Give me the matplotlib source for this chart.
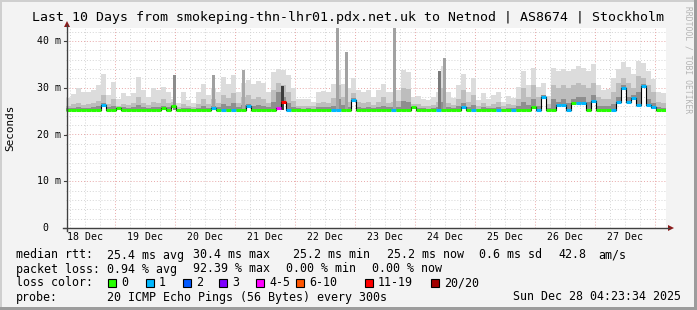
import numpy as np
import matplotlib.pyplot as plt
from matplotlib.patches import Rectangle, Polygon
from matplotlib.lines import Line2D

W, H = 697, 310
MONO = 'DejaVu Sans Mono'

# time axis: hours since 18 Dec 00:00, one bin = 2 hours
start_h = 4.4
bin_h = 2.0
day_labels = ['18 Dec', '19 Dec', '20 Dec', '21 Dec', '22 Dec',
              '23 Dec', '24 Dec', '25 Dec', '26 Dec', '27 Dec']

# smoke envelope (ms), outer / middle / inner layers
smoke_max = [27.8, 28.6, 30.0, 29.0, 29.0, 29.6, 30.5, 32.9, 28.5, 31.3,
             27.5, 28.8, 28.2, 28.8, 32.4, 29.5, 28.0, 29.9, 29.5, 30.2,
             29.0, 27.5, 26.8, 29.0, 27.3, 26.8, 29.0, 30.7, 28.5, 30.0,
             29.0, 32.4, 30.8, 32.7, 29.0, 31.0, 31.6, 30.8, 31.5, 31.0,
             29.0, 33.4, 34.0, 33.7, 32.7, 30.0, 27.5, 27.5, 27.5, 27.0,
             29.0, 29.3, 29.0, 30.8, 33.7, 30.8, 30.0, 32.0, 29.5, 29.0,
             29.5, 28.0, 29.5, 30.8, 29.0, 29.0, 29.5, 33.7, 33.4, 28.0,
             28.3, 27.5, 27.3, 28.0, 29.0, 34.6, 29.0, 27.8, 30.5, 33.0,
             29.0, 32.0, 27.3, 28.8, 27.5, 28.5, 29.0, 27.0, 28.3, 27.8,
             30.2, 33.5, 30.5, 34.2, 30.2, 31.0, 28.3, 34.3, 33.5, 34.0,
             33.5, 34.0, 34.6, 34.2, 33.6, 35.0, 30.5, 29.5, 29.8, 32.0,
             34.0, 35.5, 34.5, 33.0, 35.7, 35.3, 33.6, 31.8, 29.0, 28.8]
smoke_mid = [26.2, 26.5, 26.8, 26.4, 26.6, 26.8, 27.2, 28.5, 26.5, 27.5,
             26.0, 26.6, 26.4, 26.8, 28.0, 26.8, 26.3, 27.0, 26.8, 27.5,
             26.8, 27.0, 25.9, 26.5, 26.0, 25.9, 26.6, 27.5, 26.5, 27.5,
             26.8, 28.5, 27.8, 28.8, 26.8, 28.0, 28.5, 27.5, 28.0, 27.5,
             26.8, 29.5, 31.0, 30.5, 29.0, 27.2, 26.2, 26.0, 26.2, 26.0,
             26.8, 27.0, 26.8, 27.8, 30.5, 28.0, 27.0, 28.8, 27.0, 26.8,
             27.0, 26.4, 27.0, 28.0, 26.8, 27.0, 27.2, 30.0, 29.8, 26.5,
             26.5, 26.2, 26.0, 26.4, 27.0, 30.0, 26.8, 26.3, 27.5, 29.5,
             27.0, 28.5, 26.0, 26.8, 26.2, 26.6, 27.0, 26.0, 26.6, 26.3,
             27.5, 30.0, 28.0, 30.5, 28.0, 28.5, 26.6, 30.5, 30.0, 30.5,
             30.0, 30.5, 31.0, 30.5, 30.0, 31.0, 28.0, 27.5, 27.5, 29.0,
             31.0, 32.0, 31.0, 30.0, 32.5, 32.0, 30.5, 29.0, 27.0, 26.8]
smoke_low = [25.6, 25.7, 25.8, 25.7, 25.7, 25.8, 26.0, 26.8, 25.8, 26.0,
             25.6, 25.8, 25.7, 25.8, 26.3, 25.8, 25.6, 25.9, 25.8, 26.2,
             25.8, 26.3, 25.5, 25.7, 25.6, 25.5, 25.7, 26.0, 25.7, 26.2,
             25.8, 26.5, 26.2, 26.8, 25.8, 26.4, 26.6, 26.2, 26.4, 26.2,
             25.8, 27.0, 29.0, 28.0, 26.8, 25.9, 25.6, 25.5, 25.6, 25.5,
             25.8, 25.9, 25.8, 26.2, 27.5, 26.3, 25.9, 27.8, 25.9, 25.7,
             25.8, 25.6, 25.8, 26.2, 25.8, 25.9, 25.9, 27.2, 27.0, 25.9,
             25.7, 25.6, 25.5, 25.6, 25.9, 27.0, 25.8, 25.6, 26.0, 26.8,
             25.8, 26.3, 25.5, 25.8, 25.6, 25.7, 25.9, 25.5, 25.7, 25.6,
             26.0, 27.0, 26.3, 27.5, 26.2, 28.5, 25.7, 27.5, 27.0, 27.5,
             26.8, 27.5, 28.0, 28.0, 27.0, 28.5, 26.2, 26.0, 26.0, 26.5,
             28.0, 30.5, 28.0, 28.5, 29.0, 30.8, 27.5, 26.8, 25.8, 25.6]

median = [25.3] * 120
for i, v in {7: 26.3, 10: 25.6, 19: 25.7, 21: 26.0, 29: 25.6, 36: 26.0,
             42: 25.6, 43: 27.0, 57: 27.3, 69: 25.9, 79: 25.9, 93: 25.8,
             95: 28.0, 98: 26.3, 99: 26.3, 101: 26.7, 102: 26.8, 103: 26.8,
             105: 27.2, 110: 27.0, 111: 29.9, 112: 27.0, 113: 27.9,
             114: 26.3, 115: 30.4, 116: 26.3, 117: 25.8}.items():
    median[i] = v

# lost pings (of 20) per bin
loss = [0] * 120
for i in [7, 29, 31, 33, 36, 44, 53, 54, 57, 65, 74, 79, 81, 86, 89, 94, 95,
          98, 99, 100, 102, 103, 105, 109, 110, 111, 112, 113, 114, 115,
          116, 117]:
    loss[i] = 1
loss[42] = 4
loss[43] = 12

# narrow outlier columns
spike_hours = [47.6, 63.2, 75.2, 90.8, 112.8, 116.4, 135.6, 153.6, 155.6]
spike_tops = [32.7, 32.7, 33.8, 30.4, 43.0, 37.7, 42.8, 33.6, 36.3]
spike_shade = ['#8c8c8c', '#a0a0a0', '#a8a8a8', '#3c3c3c', '#a2a2a2',
               '#a2a2a2', '#a2a2a2', '#7a7a7a', '#a2a2a2']

loss_names = ['0', '1', '2', '3', '4-5', '6-10', '11-19', '20/20']
loss_colors = ['#26ff00', '#00b8ff', '#0059ff', '#7e00ff', '#ff00ff',
               '#ff5500', '#ff0000', '#a10000']


def loss_color(n):
    if n == 0:
        return loss_colors[0]
    if n <= 3:
        return loss_colors[n]
    if n <= 5:
        return loss_colors[4]
    if n <= 10:
        return loss_colors[5]
    if n <= 19:
        return loss_colors[6]
    return loss_colors[7]


def fx(x):
    return x / W


def fy(y):
    return 1 - y / H


fig = plt.figure(figsize=(W / 100, H / 100), dpi=100, facecolor='#f3f3f3')

# frame of the image
fig.add_artist(Rectangle((0, fy(2)), 1, 2 / H, transform=fig.transFigure, color='#cfcfcf', lw=0))
fig.add_artist(Rectangle((0, 0), 2 / W, 1, transform=fig.transFigure, color='#cfcfcf', lw=0))
fig.add_artist(Rectangle((0, 0), 1, 3 / H, transform=fig.transFigure, color='#9c9c9c', lw=0))
fig.add_artist(Rectangle((fx(694), 0), 3 / W, 1, transform=fig.transFigure, color='#9c9c9c', lw=0))

ax = fig.add_axes([fx(66), 82 / H, 600 / W, 200 / H])
ax.set_facecolor('white')
ax.set_xlim(start_h, start_h + 240)
ax.set_ylim(0, 42.78)
for s in ax.spines.values():
    s.set_visible(False)
ax.set_xticks([])
ax.set_yticks([])

# grid
for h in np.arange(6, 246, 6):
    if h % 24 == 0:
        continue
    ax.axvline(h, color='#d4d4d4', lw=0.7, ls=(0, (1, 2)), zorder=0)
for v in np.arange(2, 44, 2):
    if v % 10 == 0:
        continue
    ax.axhline(v, color='#d4d4d4', lw=0.7, ls=(0, (1, 2)), zorder=0)
for d in range(1, 11):
    ax.axvline(24 * d, color='#e8a8a8', lw=0.7, ls=(0, (1, 2)), zorder=0)
for v in [10, 20, 30, 40]:
    ax.axhline(v, color='#e8a8a8', lw=0.7, ls=(0, (1, 2)), zorder=0)

# smoke
edges = start_h + bin_h * np.arange(len(smoke_max) + 1)
base = np.array(median + [median[-1]]) - 0.25


def step(vals):
    return np.append(vals, vals[-1])


ax.fill_between(edges, base, step(smoke_max), step='post', color='#dcdcdc', lw=0, zorder=1)
ax.fill_between(edges, base, step(smoke_mid), step='post', color='#bdbdbd', lw=0, zorder=2)
ax.fill_between(edges, base, step(smoke_low), step='post', color='#8e8e8e', lw=0, zorder=3)
ax.bar(spike_hours, np.array(spike_tops) - 25.3, bottom=25.3, width=1.2,
       color=spike_shade, lw=0, zorder=3)

# median line coloured by loss
for i, m in enumerate(median):
    x0, x1 = edges[i], edges[i + 1]
    if i > 0 and abs(median[i - 1] - m) > 0.05:
        ax.plot([x0, x0], [median[i - 1], m], color='black', lw=0.8, zorder=4)
    ax.plot([x0, x1], [m, m], color=loss_color(loss[i]), lw=2.2,
            solid_capstyle='butt', zorder=5)

# axes lines with arrows
fig.add_artist(Line2D([fx(63), fx(669)], [fy(228), fy(228)], color='#404040', lw=1))
fig.add_artist(Line2D([fx(67), fx(67)], [fy(231), fy(25)], color='#404040', lw=1))
fig.add_artist(Polygon([[fx(668), fy(225)], [fx(668), fy(231)], [fx(674), fy(228)]],
                       closed=True, transform=fig.transFigure, color='#8b1a1a', lw=0))
fig.add_artist(Polygon([[fx(64), fy(27)], [fx(70), fy(27)], [fx(67), fy(21)]],
                       closed=True, transform=fig.transFigure, color='#8b1a1a', lw=0))

# y tick labels
for v, lab in zip([0, 10, 20, 30, 40], ['0  ', '10 m', '20 m', '30 m', '40 m']):
    y = 228 - v * 4.675
    fig.text(fx(61), fy(y), lab, ha='right', va='center', family=MONO, fontsize=7.1)
    fig.add_artist(Line2D([fx(64), fx(67)], [fy(y), fy(y)], color='#404040', lw=0.8))

# x tick labels
for d, lab in enumerate(day_labels):
    ax.text(12 + 24 * d, -1.9, lab, ha='center', va='center', family=MONO,
            fontsize=7.1, clip_on=False)

# title and side texts
fig.text(fx(348), fy(18), 'Last 10 Days from smokeping-thn-lhr01.pdx.net.uk to Netnod | AS8674 | Stockholm',
         ha='center', va='center', family=MONO, fontsize=9.55)
fig.text(fx(10), fy(128), 'Seconds', ha='center', va='center', rotation=90,
         family=MONO, fontsize=7.9)
fig.text(fx(688), fy(60), 'RRDTOOL / TOBI OETIKER', ha='center', va='center',
         rotation=270, family=MONO, fontsize=5.8, color='#b4b4b4')

# legend block
leg = 8.4
rows = [
    (255, [(16, 'median rtt:'), (107, '25.4 ms avg'), (193, '30.4 ms max'),
           (293, '25.2 ms min'), (387, '25.2 ms now'), (479, '0.6 ms sd'),
           (558, '42.8'), (598, 'am/s')]),
    (269, [(16, 'packet loss:'), (107, '0.94 % avg'), (193, '92.39 % max'),
           (286, '0.00 % min'), (372, '0.00 % now')]),
    (283, [(16, 'loss color:')]),
    (297, [(16, 'probe:'), (107, '20 ICMP Echo Pings (56 Bytes) every 300s')]),
]
for y, items in rows:
    for x, s in items:
        fig.text(fx(x), fy(y), s, ha='left', va='center', family=MONO, fontsize=leg)
fig.text(fx(681), fy(297), 'Sun Dec 28 04:23:34 2025', ha='right', va='center',
         family=MONO, fontsize=leg)

sq_x = [108, 146, 183, 219, 256, 296, 365, 431]
for x, name, col in zip(sq_x, loss_names, loss_colors):
    fig.add_artist(Rectangle((fx(x), fy(287)), 8 / W, 8 / H, transform=fig.transFigure,
                             facecolor=col, edgecolor='black', lw=0.8))
    fig.text(fx(x + 13), fy(283), name, ha='left', va='center', family=MONO, fontsize=leg)

fig.savefig('out.png', dpi=100, facecolor=fig.get_facecolor())
